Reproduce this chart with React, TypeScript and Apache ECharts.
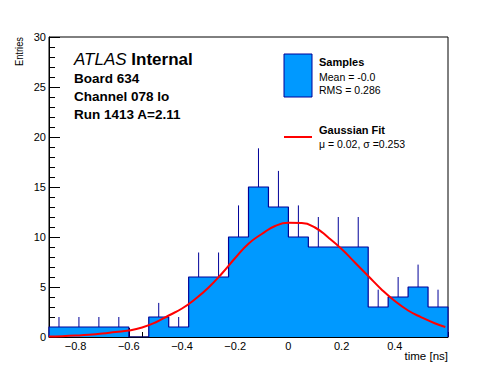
import React, { useEffect, useRef } from "react";
import * as echarts from "echarts";

// Histogram bin edges (time [ns])
const binEdges = [
  -0.9, -0.825, -0.75, -0.675, -0.6, -0.525, -0.45, -0.375, -0.3, -0.225,
  -0.15, -0.075, 0, 0.075, 0.15, 0.225, 0.3, 0.375, 0.45, 0.525, 0.6,
];
// Entries per bin
const counts = [1, 1, 1, 1, 0, 2, 1, 6, 6, 10, 15, 13, 10, 9, 9, 9, 3, 4, 5, 3];
// Upper error bar lengths per bin
const errors = [1, 1, 1, 1, 0, 1.41, 1, 2.45, 2.45, 3.16, 3.87, 3.61, 3.16, 3, 3, 3, 1.73, 2, 2.24, 1.73];

// Gaussian fit curve
const fitX = [-0.9, -0.85, -0.8, -0.75, -0.7, -0.65, -0.6, -0.55, -0.5, -0.45, -0.4, -0.35, -0.3, -0.25, -0.2, -0.15, -0.1, -0.05, 0, 0.05, 0.1, 0.15, 0.2, 0.25, 0.3, 0.35, 0.4, 0.45, 0.5, 0.55, 0.59];
const fitY = [0.04, 0.08, 0.14, 0.22, 0.34, 0.5, 0.65, 0.95, 1.45, 2.15, 2.85, 3.8, 4.95, 6.35, 7.9, 9.33, 10.3, 11.1, 11.42, 11.4, 10.95, 9.95, 8.8, 7.45, 6.1, 4.76, 3.6, 2.65, 1.97, 1.38, 1.0];

// Axis tick labels
const xMajorTicks = [-0.8, -0.6, -0.4, -0.2, 0, 0.2, 0.4];

const FONT = "'Liberation Sans', Arial, Helvetica, sans-serif";
const FILL = "#0099ff";
const EDGE = "#000099";

export default function App() {
  const ref = useRef<HTMLDivElement>(null);
  useEffect(() => {
    if (!ref.current) return;
    const chart = echarts.init(ref.current, null, { renderer: "svg" });

    const binData = counts.map((c, i) => [binEdges[i], binEdges[i + 1], c, errors[i]]);
    const outline: number[][] = [[binEdges[0], 0]];
    counts.forEach((c, i) => outline.push([binEdges[i], c]));
    outline.push([binEdges[binEdges.length - 1], counts[counts.length - 1]]);
    outline.push([binEdges[binEdges.length - 1], 0]);
    const fitData = fitX.map((x, i) => [x, fitY[i]]);

    const fmt = (v: number) => {
      const r = Math.round(v * 10) / 10;
      if (r === 0) return "0";
      return r < 0 ? "\u2212" + Math.abs(r).toFixed(1) : r.toFixed(1);
    };

    const option: any = {
      animation: false,
      textStyle: { fontFamily: FONT },
      grid: {
        left: 49, right: 50, top: 37, bottom: 37,
        show: true, borderColor: "#000", borderWidth: 1, backgroundColor: "transparent",
      },
      xAxis: [
        {
          type: "value", min: -0.9, max: 0.6, position: "bottom",
          axisLine: { show: true, onZero: false, lineStyle: { color: "#000", width: 1 } },
          axisTick: { show: true, inside: true, length: 9, customValues: xMajorTicks, lineStyle: { color: "#000" } },
          axisLabel: { show: true, customValues: xMajorTicks, formatter: fmt, fontSize: 11, color: "#000", margin: 3, fontFamily: FONT },
          splitLine: { show: false },
        },
        {
          type: "value", min: -0.9, max: 0.6, interval: 0.05, position: "bottom",
          axisLine: { show: false, onZero: false },
          axisTick: { show: true, inside: true, length: 5, lineStyle: { color: "#000" } },
          axisLabel: { show: false },
          splitLine: { show: false },
        },
      ],
      yAxis: {
        type: "value", min: 0, max: 30, interval: 5,
        axisLine: { show: true, onZero: false, lineStyle: { color: "#000", width: 1 } },
        axisTick: { show: true, inside: true, length: 11, lineStyle: { color: "#000" } },
        minorTick: { show: true, splitNumber: 5, length: 6, lineStyle: { color: "#000" } },
        axisLabel: { fontSize: 11, color: "#000", margin: 3, fontFamily: FONT },
        splitLine: { show: false },
        minorSplitLine: { show: false },
      },
      series: [
        {
          type: "line",
          name: "Samples",
          xAxisIndex: 0,
          data: outline,
          step: "end",
          symbol: "none",
          z: 1,
          lineStyle: { color: EDGE, width: 1.2 },
          areaStyle: { color: FILL, opacity: 1, origin: "start" },
        },
        {
          type: "custom",
          name: "errors",
          xAxisIndex: 0,
          data: binData,
          z: 2,
          renderItem: (params: any, api: any) => {
            const lo = api.value(0), hi = api.value(1), c = api.value(2), e = api.value(3);
            if (!c) return null;
            const mid = (lo + hi) / 2;
            const a = api.coord([mid, c]);
            const b = api.coord([mid, c + e]);
            return {
              type: "line",
              shape: { x1: a[0], y1: a[1], x2: b[0], y2: b[1] },
              style: { stroke: EDGE, lineWidth: 1 },
            };
          },
        },
        {
          type: "line",
          name: "fit",
          xAxisIndex: 0,
          data: fitData,
          smooth: true,
          symbol: "none",
          z: 4,
          lineStyle: { color: "#ff0000", width: 2 },
        },
      ],
      graphic: [
        {
          type: "text", x: 19, y: 37, rotation: Math.PI / 2, scaleX: 0.85,
          style: { text: "Entries", fontSize: 11, fontFamily: FONT, fill: "#000", align: "right", verticalAlign: "middle" },
        },
        {
          type: "text", x: 448, y: 355.5,
          style: { text: "time [ns]", fontSize: 11.5, fontFamily: FONT, fill: "#000", align: "right", verticalAlign: "middle" },
        },
        {
          type: "text", x: 74, y: 59,
          style: {
            text: "{a|ATLAS} {b|Internal}", fontSize: 17, fontFamily: FONT, fill: "#000", verticalAlign: "middle",
            rich: {
              a: { fontStyle: "italic", fontSize: 17, fontFamily: FONT, fill: "#000" },
              b: { fontWeight: "bold", fontSize: 17, fontFamily: FONT, fill: "#000" },
            },
          },
        },
        { type: "text", x: 74, y: 78.6, style: { text: "Board 634", fontSize: 13.5, fontWeight: "bold", fontFamily: FONT, fill: "#000", verticalAlign: "middle" } },
        { type: "text", x: 74, y: 96.6, style: { text: "Channel 078 lo", fontSize: 13.5, fontWeight: "bold", fontFamily: FONT, fill: "#000", verticalAlign: "middle" } },
        { type: "text", x: 74, y: 114.6, style: { text: "Run 1413 A=2.11", fontSize: 13.5, fontWeight: "bold", fontFamily: FONT, fill: "#000", verticalAlign: "middle" } },
        {
          type: "rect", shape: { x: 284, y: 54, width: 28, height: 43 },
          style: { fill: FILL, stroke: EDGE, lineWidth: 1 },
        },
        { type: "text", x: 319, y: 62.2, style: { text: "Samples", fontSize: 11, fontWeight: "bold", fontFamily: FONT, fill: "#000", verticalAlign: "middle" } },
        { type: "text", x: 319, y: 77.3, style: { text: "Mean = -0.0", fontSize: 10.5, fontFamily: FONT, fill: "#000", verticalAlign: "middle" } },
        { type: "text", x: 319, y: 89.6, style: { text: "RMS = 0.286", fontSize: 10.5, fontFamily: FONT, fill: "#000", verticalAlign: "middle" } },
        {
          type: "line", shape: { x1: 284, y1: 137, x2: 312, y2: 137 },
          style: { stroke: "#ff0000", lineWidth: 2 },
        },
        { type: "text", x: 319, y: 129.5, style: { text: "Gaussian Fit", fontSize: 11, fontWeight: "bold", fontFamily: FONT, fill: "#000", verticalAlign: "middle" } },
        { type: "text", x: 319, y: 143.6, style: { text: "\u03bc = 0.02, \u03c3 =0.253", fontSize: 10.5, fontFamily: FONT, fill: "#000", verticalAlign: "middle" } },
      ],
    };
    chart.setOption(option);
    return () => chart.dispose();
  }, []);
  return (
    <div
      ref={ref}
      style={{ position: "fixed", left: 0, top: 0, width: 498, height: 374, background: "#fff" }}
    />
  );
}
